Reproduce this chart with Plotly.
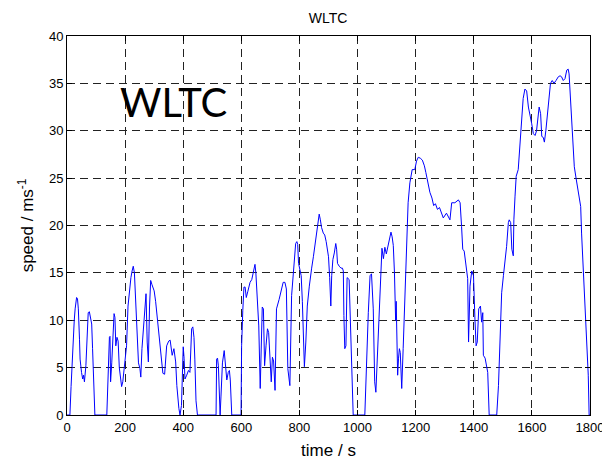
import plotly.graph_objects as go

# WLTC speed trace (time in s, speed in m/s)
time_s = [0, 10, 14, 20, 25, 28, 33, 36, 39, 43, 45, 50, 54, 57, 60, 65, 70, 73, 77, 82, 85, 88, 91, 96,
          137, 142, 146, 148, 150, 154, 159, 162, 165, 168, 172, 176, 180, 184, 188, 192, 200, 205, 210,
          215, 220, 224, 228, 232, 236, 241, 246, 251, 254, 258, 262, 268, 272, 276, 280, 284, 288, 292,
          296, 300, 305, 309, 318, 324, 330, 336, 343, 350, 355, 362, 368, 374, 378, 385, 389, 394, 398,
          400, 403, 406, 412, 418, 423, 429, 433, 437, 440, 444, 449,
          513, 515, 518, 521, 525, 527, 530, 535, 541, 545, 550, 555, 559, 562, 567,
          599, 601, 605, 609, 613, 617, 622, 630, 636, 641, 647, 650, 654, 660, 665, 669, 672, 676, 680,
          685, 690, 694, 698, 703, 707, 711, 716, 721, 730, 738, 744, 750, 755, 760, 767, 773, 779, 783,
          787, 791, 794, 797, 802, 806, 810, 813, 817, 822, 827, 834, 838, 842, 848, 853, 859, 864, 868,
          872, 876, 882, 887, 892, 897, 900, 904, 908, 911, 915, 920, 925, 928, 931, 937, 943, 948, 951,
          953, 956, 960, 964, 971, 976, 980, 983, 985,
          1025, 1028, 1031, 1037, 1043, 1048, 1054, 1059, 1063, 1068, 1074, 1080, 1084, 1089, 1094, 1099,
          1105, 1111, 1115, 1119, 1123, 1127, 1131, 1133, 1138, 1141, 1144, 1147, 1152, 1157, 1162, 1166,
          1170, 1174, 1180, 1188, 1197, 1203, 1209, 1216, 1223, 1230, 1235, 1241, 1249, 1256, 1262, 1268,
          1275, 1282, 1287, 1295, 1306, 1318, 1324, 1335, 1347, 1353, 1358, 1362, 1367, 1370, 1376, 1379,
          1382, 1387, 1393, 1399, 1404, 1408, 1412, 1417, 1423, 1427, 1431, 1433, 1439, 1444, 1448, 1453,
          1479, 1485, 1491, 1496, 1502, 1507, 1513, 1519, 1522, 1527, 1531, 1536, 1538, 1542, 1546, 1553,
          1559, 1565, 1570, 1576, 1582, 1588, 1593, 1599, 1605, 1611, 1616, 1622, 1625, 1630, 1634, 1639,
          1643, 1648, 1653, 1659, 1664, 1670, 1676, 1683, 1691, 1697, 1702, 1708, 1714, 1720, 1725, 1728,
          1733, 1740, 1746, 1752, 1757, 1764, 1768, 1771, 1777, 1782, 1788, 1794, 1797, 1800]

speed_ms = [0, 0, 3, 7.7, 10, 11.2, 12.4, 12.3, 11.2, 8, 5.9, 4.5, 3.8, 4.2, 3.5, 5.2, 8.5, 10.8, 10.9, 10.2,
            9.6, 7, 4.2, 0,
            0, 5.9, 8.2, 8.3, 3.5, 5.5, 8, 10.7, 10.3, 7.3, 8.2, 7.8, 5, 3.8, 3.0, 3.5, 5.5, 7.3, 11.5,
            13.5, 14.5, 15.2, 15.7, 15, 12.6, 8.7, 5.5, 4.9, 4.0, 7, 8.7, 12.2, 12.8, 7.7, 5.6, 11.4, 14.2,
            13.8, 13.3, 13.1, 12, 10.8, 8.0, 6.6, 4.4, 4.3, 7.3, 7.8, 7.9, 6.3, 7.0, 5.6, 3.1, 0.7, 0, 1,
            5, 7.2, 6, 3.8, 4.2, 4.7, 4.5, 9.1, 9.3, 8.2, 5.9, 1.5, 0,
            0, 5.9, 6.0, 5.2, 1.5, 0, 2, 5.5, 6.8, 5.6, 3.7, 4.5, 4.7, 3.7, 0,
            0, 7.3, 11, 13.5, 13.5, 12.4, 13, 14, 14.3, 15, 15.9, 15, 12.6, 9.4, 2.8, 9, 11.4, 11.2, 5.2,
            7.3, 9.1, 8.7, 5.9, 3.5, 6.1, 5.7, 2.6, 11.2, 12.2, 13.3, 14, 14, 13.3, 4.9, 3.1, 12.6, 15,
            17.4, 18.1, 18.3, 18, 16, 15, 14.7, 12, 9.1, 5.1, 7.7, 11.5, 13.6, 15, 15.5, 16.7, 17.8, 19.2,
            20.6, 21.2, 20.6, 19.8, 19.2, 19, 18.3, 17.3, 16.7, 14.5, 11.5, 14.7, 16.4, 17.1, 18.1, 17.5,
            16, 15.7, 15.5, 15.5, 15.2, 10.5, 7, 7.3, 14.5, 14.3, 9.4, 4.2, 2.1, 0,
            0, 3, 6.3, 10.8, 14.7, 14.9, 11.2, 3.5, 2.4, 6.5, 11.5, 16.4, 17.6, 16.5, 17.7, 17.0,
            17.9, 18.6, 19.3, 18.8, 17.9, 15, 10, 12, 4.2, 6, 7.0, 6.6, 2.8, 7, 11.5, 14.7,
            18.6, 22.4, 24.5, 25.9, 25.9, 26.8, 27.2, 27.1, 26.9, 26.3, 25.6, 24.5, 23.5, 22.9, 22.1, 22.3,
            21.7, 21.9, 21.5, 20.8, 21.3, 20.6, 22.4, 22.4, 22.7, 22.4, 19.9, 17.5, 17.3, 16.4, 14.7, 14.4,
            7.7, 13.6, 15.2, 14.7, 10.1, 7.3, 7.7, 11.2, 11.5, 9.8, 10.8, 6.3, 6.0, 4.9, 4.5, 0,
            0, 3.1, 9.8, 12.9, 14.7, 16.1, 17.8, 20.3, 20.6, 20.3, 17.5, 16.8, 20.6, 23.1, 25.2, 25.9,
            29.0, 30.8, 33.4, 34.4, 34.2, 32.5, 31.5, 30.8, 29.7, 29.5, 30.0, 32.2, 32.5, 31.8, 29.4, 29.3,
            28.8, 30.0, 31.8, 33.2, 35.0, 35.3, 35.0, 35.3, 35.7, 35.8, 35.7, 35.3, 35.5, 36.4, 36.5, 36.0,
            33.2, 29.0, 26.2, 25.0, 24.1, 23.1, 22.0, 19.2, 15.4, 11.9, 7.3, 4.2, 0, 0]

x_ticks = [0, 200, 400, 600, 800, 1000, 1200, 1400, 1600, 1800]
y_ticks = [0, 5, 10, 15, 20, 25, 30, 35, 40]

font_main = "Liberation Sans, Arial, sans-serif"

fig = go.Figure()
fig.add_trace(go.Scatter(x=time_s, y=speed_ms, mode="lines",
                         line=dict(color="#0000FF", width=1), showlegend=False))

axis_common = dict(
    showline=True, linecolor="black", linewidth=1, mirror="ticks",
    ticks="inside", ticklen=5, tickcolor="black",
    showgrid=True, gridcolor="#222222", gridwidth=1, griddash="8px,5px",
    zeroline=False, ticklabeloverflow="allow", automargin=False,
    tickfont=dict(family=font_main, size=13, color="black"),
)

fig.update_xaxes(range=[0, 1800], tickvals=x_ticks, ticktext=[str(v) for v in x_ticks],
                 title=dict(text="time / s", font=dict(family=font_main, size=17, color="black"),
                            standoff=12),
                 **axis_common)
fig.update_yaxes(range=[0, 40], tickvals=y_ticks, ticktext=[str(v) for v in y_ticks],
                 title=dict(text="speed / ms<sup>-1</sup>",
                            font=dict(family=font_main, size=17, color="black"), standoff=10),
                 **axis_common)

fig.update_layout(
    width=602, height=460,
    margin=dict(l=67, r=12, t=36, b=45),
    paper_bgcolor="white", plot_bgcolor="white",
    title=dict(text="WLTC", x=0.545, xanchor="center", y=0.961, yanchor="middle",
               font=dict(family=font_main, size=14, color="black")),
    annotations=[dict(text="WLTC", x=176, y=33.0, xref="x", yref="y",
                      xanchor="left", yanchor="middle", showarrow=False,
                      font=dict(family="Lato, Open Sans, sans-serif", size=40, color="black"))],
)

fig.write_html("out.html")
